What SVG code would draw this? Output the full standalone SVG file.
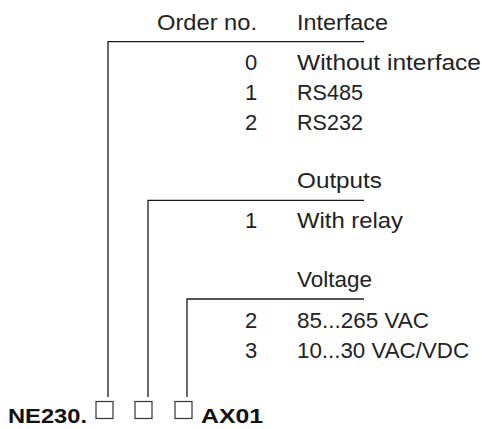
<svg xmlns="http://www.w3.org/2000/svg" width="482" height="429" viewBox="0 0 482 429">
<style>
.t{font-family:"Liberation Sans",Arial,sans-serif;font-size:22px;fill:#222}
.d{font-family:"Liberation Sans",Arial,sans-serif;font-size:22px;fill:#222;text-anchor:middle}
.b{font-family:"Liberation Sans",Arial,sans-serif;font-size:21px;font-weight:bold;fill:#111}
.ln{stroke:#1a1a1a;stroke-width:1.3;fill:none}
.bx{stroke:#333;stroke-width:1.2;fill:#fff}
</style>
<rect width="482" height="429" fill="#fff"/>
<g id="connectors">
<polyline class="ln" points="108,397 108,41.7 364,41.7"/>
<polyline class="ln" points="148,397 148,200.3 364,200.3"/>
<polyline class="ln" points="187,397 187,299 364,299"/>
</g>
<g id="header">
<text class="t" x="257" y="30" text-anchor="end" textLength="100" lengthAdjust="spacingAndGlyphs">Order no.</text>
</g>
<g id="interface">
<text class="t" x="297" y="30" textLength="91" lengthAdjust="spacingAndGlyphs">Interface</text>
<text class="d" x="251" y="70">0</text>
<text class="t" x="297" y="70" textLength="184" lengthAdjust="spacingAndGlyphs">Without interface</text>
<text class="d" x="251" y="100">1</text>
<text class="t" x="297" y="100" textLength="66" lengthAdjust="spacingAndGlyphs">RS485</text>
<text class="d" x="251" y="130">2</text>
<text class="t" x="297" y="130" textLength="66" lengthAdjust="spacingAndGlyphs">RS232</text>
</g>
<g id="outputs">
<text class="t" x="297" y="188" textLength="85" lengthAdjust="spacingAndGlyphs">Outputs</text>
<text class="d" x="251" y="228">1</text>
<text class="t" x="297" y="228" textLength="106" lengthAdjust="spacingAndGlyphs">With relay</text>
</g>
<g id="voltage">
<text class="t" x="297" y="287" textLength="75" lengthAdjust="spacingAndGlyphs">Voltage</text>
<text class="d" x="251" y="328">2</text>
<text class="t" x="297" y="328" textLength="132" lengthAdjust="spacingAndGlyphs">85...265 VAC</text>
<text class="d" x="251" y="358">3</text>
<text class="t" x="297" y="358" textLength="172" lengthAdjust="spacingAndGlyphs">10...30 VAC/VDC</text>
</g>
<g id="order-code">
<text class="b" x="8" y="423" textLength="79" lengthAdjust="spacingAndGlyphs">NE230.</text>
<rect class="bx" x="96" y="401.5" width="17" height="17"/>
<rect class="bx" x="135" y="401.5" width="17" height="17"/>
<rect class="bx" x="175" y="401.5" width="17" height="17"/>
<text class="b" x="201" y="423" textLength="62" lengthAdjust="spacingAndGlyphs">AX01</text>
</g>
</svg>
